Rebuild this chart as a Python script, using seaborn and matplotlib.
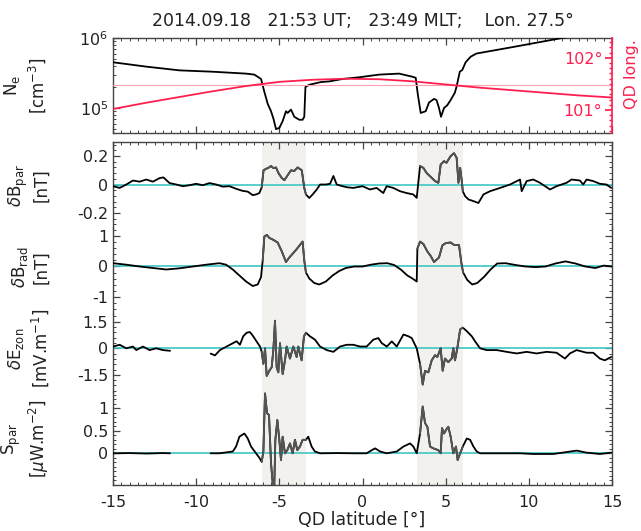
import numpy as np
import pandas as pd
import matplotlib
matplotlib.use("Agg")
import matplotlib.pyplot as plt
import seaborn as sns
from matplotlib.ticker import MultipleLocator, AutoMinorLocator

# ---------------- data ----------------
title = "2014.09.18   21:53 UT;   23:49 MLT;    Lon. 27.5°"
bands = [(-6.05, -3.40), (3.30, 6.03)]

ne_lat = [-15.0, -13.0, -11.0, -9.0, -7.0, -6.5, -6.1, -5.9, -5.7, -5.5, -5.35, -5.2, -5.0, -4.8,
          -4.6, -4.5, -4.3, -4.1, -3.8, -3.6, -3.5, -3.43, -3.2, -2.5, -2.0, -1.2, -0.2, 1.0,
          2.2, 3.0, 3.2, 3.32, 3.5, 3.8, 4.0, 4.3, 4.45, 4.6, 4.72, 4.9, 5.1, 5.3, 5.55, 5.65,
          5.85, 6.0, 6.2, 6.5, 6.85, 9.0, 12.0, 15.0]
ne_val = [4.5e5, 3.9e5, 3.45e5, 3.3e5, 3.1e5, 3.0e5, 2.6e5, 1.7e5, 1.15e5, 9.0e4, 7.0e4, 5.0e4,
          5.2e4, 6.5e4, 9.0e4, 8.5e4, 9.5e4, 7.5e4, 6.8e4, 6.8e4, 7.5e4, 2.0e5, 2.15e5, 2.35e5,
          2.4e5, 2.6e5, 2.75e5, 3.0e5, 3.1e5, 2.8e5, 2.7e5, 1.6e5, 8.5e4, 9.0e4, 1.2e5, 1.35e5,
          1.3e5, 1.0e5, 7.5e4, 1.0e5, 1.1e5, 1.3e5, 1.65e5, 2.0e5, 3.3e5, 3.5e5, 4.5e5, 5.4e5,
          6.0e5, 7.4e5, 1.0e6, 1.3e6]

qd_lat = [-15, -13, -11, -9, -7, -5, -3, -1, 1, 3, 5, 7, 9, 11, 13, 15]
qd_lon = [101.02, 101.14, 101.25, 101.36, 101.46, 101.54, 101.58, 101.60, 101.59, 101.55,
          101.49, 101.43, 101.38, 101.33, 101.28, 101.24]
qd_ref = 101.48

bpar_lat = [-15.0, -14.6, -14.2, -13.8, -13.4, -13.0, -12.6, -12.2, -11.97, -11.6, -11.2, -10.8,
            -10.4, -10.0, -9.6, -9.2, -8.8, -8.4, -8.0, -7.6, -7.2, -6.9, -6.6, -6.4, -6.2, -6.06,
            -5.95, -5.8, -5.66, -5.5, -5.35, -5.2, -5.05, -4.86, -4.7, -4.5, -4.3, -4.1, -3.9,
            -3.65, -3.5, -3.4, -3.2, -3.0, -2.75, -2.55, -2.2, -1.95, -1.75, -1.55, -1.2, -0.9,
            -0.55, 0.0, 0.45, 0.85, 1.25, 1.45, 1.85, 2.25, 2.65, 3.05, 3.26, 3.46, 3.66, 3.86,
            4.16, 4.36, 4.56, 4.7, 4.9, 5.05, 5.3, 5.5, 5.66, 5.77, 5.87, 5.97, 6.03, 6.17, 6.37,
            6.67, 6.97, 7.27, 7.67, 8.27, 8.87, 9.47, 9.57, 9.87, 10.27, 10.67, 11.27, 11.67,
            12.27, 12.57, 13.07, 13.27, 13.47, 13.87, 14.27, 14.67, 14.95]
bpar_val = [-0.012, -0.024, 0.0, 0.028, 0.02, 0.035, 0.02, 0.045, 0.05, 0.01, 0.0, -0.012,
            -0.005, 0.005, -0.005, 0.01, 0.0, -0.015, -0.012, -0.03, -0.045, -0.05, -0.075, -0.07,
            -0.06, -0.02, 0.10, 0.11, 0.117, 0.13, 0.115, 0.12, 0.08, 0.047, 0.03, 0.065, 0.10,
            0.095, 0.12, 0.10, -0.025, -0.07, -0.095, -0.07, -0.035, 0.0, 0.0, 0.005, 0.06, 0.0,
            -0.012, -0.02, -0.024, -0.012, -0.035, -0.024, -0.06, -0.012, -0.024, -0.047, -0.06,
            -0.07, -0.094, 0.13, 0.117, 0.08, 0.047, 0.024, 0.012, 0.14, 0.164, 0.153, 0.20, 0.22,
            0.188, 0.012, 0.117, 0.024, -0.047, -0.082, -0.105, -0.117, -0.13, -0.07, -0.047,
            -0.024, 0.0, 0.035, -0.047, 0.024, 0.035, 0.012, -0.035, -0.012, 0.012, 0.035, 0.028,
            0.0, 0.035, 0.024, 0.005, 0.0, -0.024]

brad_lat = [-15.0, -14.2, -13.4, -12.6, -11.8, -11.0, -10.2, -9.4, -8.6, -8.2, -7.8, -7.4, -7.0,
            -6.6, -6.3, -6.1, -6.0, -5.9, -5.75, -5.6, -5.4, -5.1, -4.85, -4.6, -4.4, -4.0, -3.6,
            -3.5, -3.4, -3.2, -2.9, -2.6, -2.2, -1.8, -1.4, -1.0, -0.5, 0.0, 0.5, 1.0, 1.5, 1.9,
            2.3, 2.7, 3.0, 3.26, 3.3, 3.46, 3.66, 3.9, 4.1, 4.3, 4.6, 4.8, 5.0, 5.3, 5.5, 5.8,
            5.95, 6.05, 6.3, 6.6, 6.9, 7.3, 7.7, 8.1, 8.6, 9.2, 9.8, 10.4, 11.0, 11.6, 12.2,
            12.8, 13.4, 14.0, 14.5, 15.0]
brad_val = [0.11, 0.06, 0.0, -0.05, -0.1, -0.06, 0.0, 0.06, 0.11, 0.06, -0.1, -0.3, -0.5, -0.65,
            -0.6, -0.35, 0.2, 1.0, 1.05, 0.95, 0.9, 0.8, 0.5, 0.15, 0.3, 0.55, 0.83, 0.2, -0.2,
            -0.4, -0.55, -0.6, -0.5, -0.3, -0.15, -0.05, 0.0, 0.0, 0.06, 0.1, 0.11, 0.05, -0.1,
            -0.3, -0.4, -0.5, 0.6, 0.83, 0.75, 0.5, 0.35, 0.15, 0.3, 0.7, 0.78, 0.8, 0.72, 0.72,
            0.1, -0.2, -0.45, -0.6, -0.55, -0.35, -0.1, 0.1, 0.11, 0.05, 0.0, -0.02, 0.0, 0.1,
            0.17, 0.1, 0.0, -0.05, 0.03, 0.0]

ezon_lat = [-15.0, -14.6, -14.2, -13.8, -13.6, -13.2, -12.8, -12.4, -12.0, -11.57, -10.5, -9.13,
            -8.87, -8.57, -8.17, -7.77, -7.57, -7.37, -7.17, -6.97, -6.77, -6.57, -6.37, -6.16,
            -6.06, -5.96, -5.86, -5.76, -5.6, -5.46, -5.36, -5.26, -5.16, -5.06, -4.96, -4.8,
            -4.66, -4.56, -4.36, -4.16, -3.96, -3.86, -3.66, -3.52, -3.4, -3.16, -2.86, -2.55,
            -2.15, -1.75, -1.35, -0.95, -0.55, -0.15, 0.25, 0.65, 0.95, 1.16, 1.46, 1.76, 2.06,
            2.46, 2.76, 2.96, 3.26, 3.46, 3.62, 3.76, 3.96, 4.16, 4.36, 4.5, 4.7, 4.82, 4.96, 5.16,
            5.36, 5.46, 5.56, 5.7, 5.87, 6.03, 6.27, 6.57, 6.77, 7.07, 7.47, 8.07, 8.67, 9.27,
            9.87, 10.47, 11.07, 11.67, 12.17, 12.47, 12.87, 13.47, 13.87, 14.27, 14.57, 14.95]
ezon_val = [0.1, 0.2, 0.0, 0.1, -0.1, 0.1, -0.1, 0.0, -0.1, -0.14, np.nan, -0.3, -0.4, -0.1, 0.1,
            0.3, 0.4, 0.2, 0.68, 0.88, 0.92, 0.68, 0.39, 0.1, -0.2, -0.88, 0.0, -1.56, -1.27, -1.07,
            -0.1, 1.56, -1.07, -1.36, 0.29, -1.46, -0.68, 0.1, -0.58, 0.1, -0.49, 0.1, -0.68, 0.68,
            0.88, 0.68, 0.49, 0.1, -0.1, -0.2, 0.1, 0.2, 0.2, 0.1, 0.1, 0.49, 0.58, 0.29, 0.1, 0.39,
            0.1, 0.78, 0.68, 0.58, 0.0, -0.88, -2.05, -1.27, -1.36, -0.68, -0.39, -0.49, 0.0, -1.27,
            -0.58, -0.78, -0.58, 0.0, -0.68, 0.0, 1.07, 1.17, 0.97, 0.68, 0.39, 0.0, -0.1, -0.1,
            -0.2, -0.29, -0.2, -0.29, -0.2, -0.25, -0.58, -0.29, -0.1, -0.25, -0.25, -0.58, -0.68,
            -0.49]

spar_lat = [-15.0, -14.0, -13.0, -12.0, -11.57, -10.5, -9.13, -8.6, -7.8, -7.6, -7.4, -7.1, -6.9,
            -6.7, -6.4, -6.2, -6.06, -5.96, -5.86, -5.74, -5.62, -5.5, -5.32, -5.24, -5.12, -5.0,
            -4.9, -4.8, -4.66, -4.52, -4.36, -4.2, -4.06, -3.92, -3.76, -3.6, -3.4, -3.26, -3.06,
            -2.86, -2.55, -1.5, -0.5, 0.25, 0.56, 0.76, 1.06, 1.46, 2.06, 2.46, 2.86, 3.06, 3.26,
            3.46, 3.62, 3.76, 3.9, 4.06, 4.26, 4.56, 4.7, 4.78, 4.9, 5.02, 5.16, 5.3, 5.46, 5.62,
            5.72, 5.87, 6.03, 6.27, 6.47, 6.67, 6.87, 7.07, 8.5, 9.47, 10.27, 11.47, 12.87, 13.47,
            14.27, 14.95]
spar_val = [0.0, 0.005, -0.005, 0.005, 0.0, np.nan, 0.0, 0.0, 0.04, 0.15, 0.37, 0.44, 0.33, 0.15,
            0.0, -0.1, -0.19, 0.04, 1.33, 0.89, 0.85, -0.22, -1.0, 0.3, 0.74, 0.3, -0.15, 0.37,
            0.0, 0.07, 0.22, 0.0, 0.3, 0.07, 0.15, 0.3, 0.3, 0.37, 0.15, 0.04, 0.0, 0.005, 0.0,
            0.0, 0.07, 0.11, 0.04, 0.0, 0.04, 0.15, 0.22, 0.15, 0.0, 0.44, 1.04, 0.67, 0.59, 0.15,
            0.11, 0.07, 0.0, 0.56, 0.44, 0.52, 0.59, 0.37, 0.0, 0.15, -0.15, 0.0, 0.15, 0.33, 0.3,
            0.15, 0.04, 0.0, 0.0, 0.0, -0.015, -0.015, 0.06, 0.015, -0.015, 0.015]

# ---------------- style ----------------
sns.set_theme(style="ticks")
plt.rcParams["font.family"] = ["DejaVu Sans"]
plt.rcParams["mathtext.fontset"] = "dejavusans"
FRAME = "#444444"
TXT = "#222222"
RED = "#ff1f4f"
CYAN = "#3ec6c6"
BAND = "#f2f1ee"
INBAND = "#555555"
FS = 11.5
LFS = 12

W, H = 641, 531
fig = plt.figure(figsize=(W / 100, H / 100), dpi=100)


def box(top, bottom, left=113, right=612):
    return [left / W, 1 - bottom / H, (right - left) / W, (bottom - top) / H]


def draw(ax, lat, val, color, lw=1.3, z=3):
    df = pd.DataFrame({"lat": lat, "val": val})
    grp = df["val"].isna().cumsum()
    ok = df["val"].notna()
    for _, g in df[ok].groupby(grp[ok]):
        if len(g) > 1:
            sns.lineplot(data=g, x="lat", y="val", ax=ax, color=color, lw=lw,
                         estimator=None, sort=False, zorder=z)


def style_axis(ax, top=True, bottom=True):
    for s in ax.spines.values():
        s.set_color(FRAME)
        s.set_linewidth(1.0)
    ax.spines["top"].set_visible(top)
    ax.spines["bottom"].set_visible(bottom)
    ax.set_xlim(-15, 15)
    ax.xaxis.set_major_locator(MultipleLocator(5))
    ax.xaxis.set_minor_locator(MultipleLocator(0.5))
    ax.tick_params(axis="both", which="both", direction="in", colors=FRAME,
                   labelcolor=TXT, labelsize=FS)
    ax.tick_params(axis="both", which="major", length=5, width=0.9)
    ax.tick_params(axis="both", which="minor", length=2.5, width=0.7)
    ax.tick_params(axis="x", which="both", top=top, bottom=bottom, labelbottom=False,
                   labeltop=False)
    ax.tick_params(axis="y", which="both", left=True, right=True)
    ax.set_xlabel("")
    ax.set_facecolor("none")


# ---------------- panel 1: Ne ----------------
ax1 = fig.add_axes(box(38, 133))
draw(ax1, ne_lat, ne_val, "black", lw=1.3)
ax1.set_yscale("log")
ax1.set_ylim(4.4e4, 1.0e6)
style_axis(ax1)
ax1.tick_params(axis="y", which="both", right=False)
ax1.spines["right"].set_visible(False)
ax1.set_ylabel("N$_\\mathregular{e}$\n[cm$^{\\mathregular{-3}}$]", fontsize=LFS, color=TXT,
               linespacing=1.25)
ax1.yaxis.set_label_coords(-0.13, 0.5)
ax1.set_title(title, fontsize=12.5, color=TXT, pad=9)

ax1r = ax1.twinx()
draw(ax1r, qd_lat, qd_lon, RED, lw=1.3)
ax1r.axhline(qd_ref, color="#ff9fb2", lw=0.8, zorder=1)
ax1r.set_ylim(100.56, 102.38)
ax1r.set_xlim(-15, 15)
for s in ["left", "top", "bottom"]:
    ax1r.spines[s].set_visible(False)
ax1r.spines["right"].set_color(RED)
ax1r.set_yticks([101, 102], labels=["101°", "102°"])
ax1r.yaxis.set_minor_locator(MultipleLocator(0.1))
ax1r.tick_params(axis="y", which="both", direction="in", colors=RED, labelcolor=RED,
                 labelsize=FS, pad=-7)
ax1r.tick_params(axis="y", which="major", length=5)
ax1r.tick_params(axis="y", which="minor", length=2.5)
for lab in ax1r.get_yticklabels():
    lab.set_horizontalalignment("right")
ax1r.set_ylabel("QD long.", color=RED, fontsize=11.5)
ax1r.yaxis.set_label_coords(1.024, 0.62)
ax1r.set_xlabel("")

# ---------------- lower panels ----------------
specs = [
    (142, 228, bpar_lat, bpar_val, (-0.306, 0.299), [-0.2, 0, 0.2], ["-0.2", "0", "0.2"],
     "$\\delta$B$_\\mathregular{par}$\n[nT]", 0.5),
    (228, 314, brad_lat, brad_val, (-1.583, 1.283), [-1, 0, 1], ["-1", "0", "1"],
     "$\\delta$B$_\\mathregular{rad}$\n[nT]", 0.55),
    (314, 392, ezon_lat, ezon_val, (-2.47, 1.94), [-1.5, 0, 1.5], ["-1.5", "0", "1.5"],
     "$\\delta$E$_\\mathregular{zon}$\n[mV.m$^{\\mathregular{-1}}$]", 0.56),
    (392, 485, spar_lat, spar_val, (-0.704, 1.362), [0, 0.5, 1], ["0", "0.5", "1"],
     "S$_\\mathregular{par}$\n[$\\mu$W.m$^{\\mathregular{-2}}$]", 0.5),
]

axes = []
n = len(specs)
for i, (top, bot, lat, val, ylim, yt, ytl, lab, ly) in enumerate(specs):
    ax = fig.add_axes(box(top, bot))
    for lo, hi in bands:
        ax.axvspan(lo, hi, color=BAND, lw=0, zorder=0)
    ax.axhline(0, color=CYAN, lw=1.2, zorder=2)
    draw(ax, lat, val, "black", lw=1.3, z=3)
    df = pd.DataFrame({"lat": lat, "val": val})
    for lo, hi in bands:
        seg = df[(df["lat"] >= lo - 0.02) & (df["lat"] <= hi + 0.02)]
        draw(ax, seg["lat"].tolist(), seg["val"].tolist(), INBAND, lw=1.3, z=4)
    ax.set_ylim(*ylim)
    style_axis(ax, top=(i == 0), bottom=(i == n - 1))
    ax.set_yticks(yt, labels=ytl)
    ax.yaxis.set_minor_locator(AutoMinorLocator(5))
    ax.set_ylabel(lab, fontsize=LFS, color=TXT, linespacing=1.2)
    ax.yaxis.set_label_coords(-0.125, ly)
    axes.append(ax)

axb = axes[-1]
axb.tick_params(axis="x", which="major", labelbottom=True, pad=7)
axb.set_xticks([-15, -10, -5, 0, 5, 10, 15], labels=["-15", "-10", "-5", "0", "5", "10", "15"])
fig.text(362 / W, 1 - 520 / H, "QD latitude [°]", ha="center", va="center",
         fontsize=12.5, color=TXT)

fig.savefig("out.png", dpi=100)
